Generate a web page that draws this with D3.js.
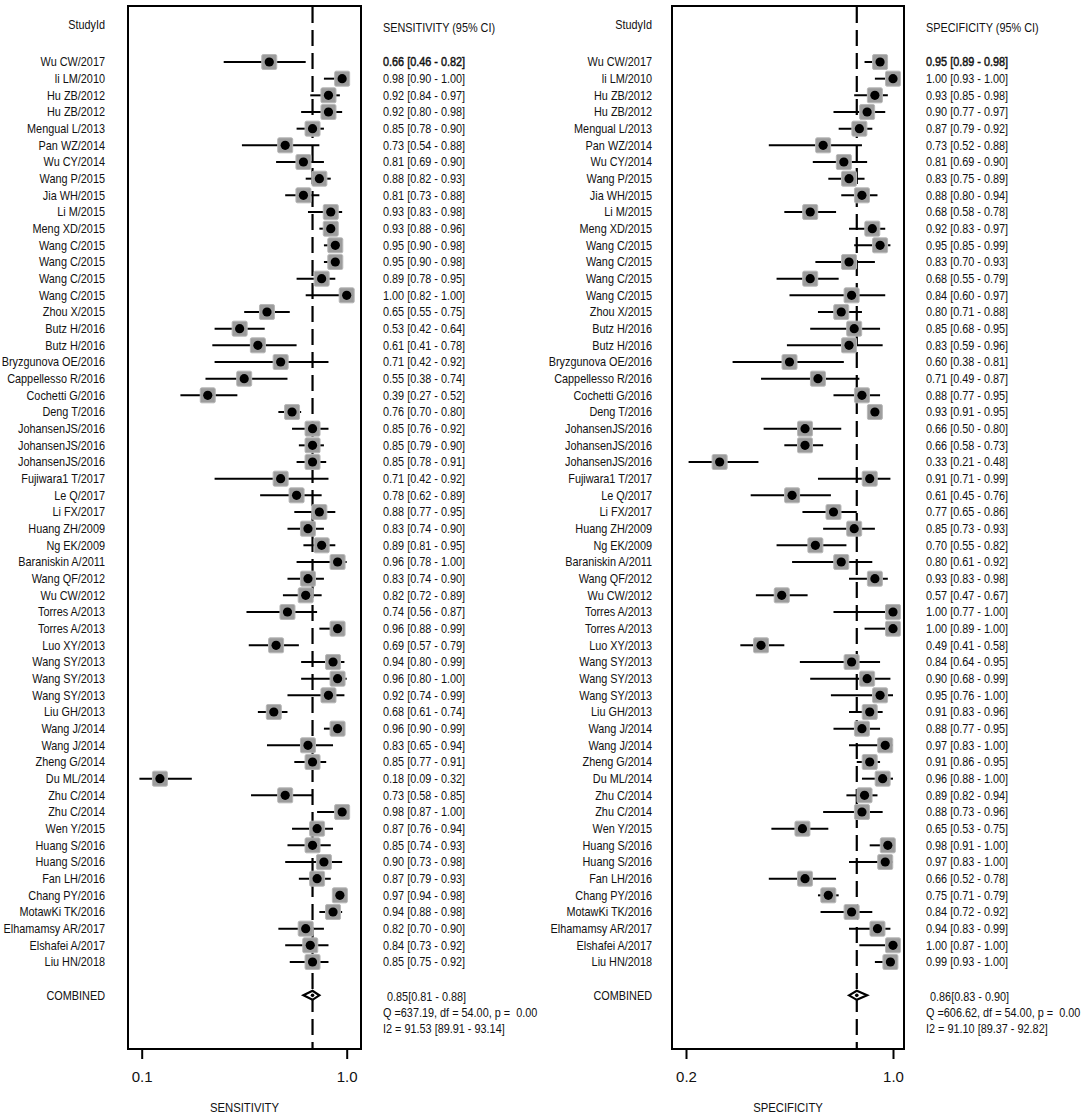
<!DOCTYPE html>
<html><head><meta charset="utf-8">
<script src="https://cdn.jsdelivr.net/npm/d3@7"></script>
<style>
body{margin:0;background:#fff;}
text{font-family:"Liberation Sans",Arial,sans-serif;fill:#111;}
</style></head><body>
<svg id="c" width="1084" height="1119"></svg>
<script>
const studies = ["Wu CW/2017","li LM/2010","Hu ZB/2012","Hu ZB/2012","Mengual L/2013","Pan WZ/2014","Wu CY/2014","Wang P/2015","Jia WH/2015","Li M/2015","Meng XD/2015","Wang C/2015","Wang C/2015","Wang C/2015","Wang C/2015","Zhou X/2015","Butz H/2016","Butz H/2016","Bryzgunova OE/2016","Cappellesso R/2016","Cochetti G/2016","Deng T/2016","JohansenJS/2016","JohansenJS/2016","JohansenJS/2016","Fujiwara1 T/2017","Le Q/2017","Li FX/2017","Huang ZH/2009","Ng EK/2009","Baraniskin A/2011","Wang QF/2012","Wu CW/2012","Torres A/2013","Torres A/2013","Luo XY/2013","Wang SY/2013","Wang SY/2013","Wang SY/2013","Liu GH/2013","Wang J/2014","Wang J/2014","Zheng G/2014","Du ML/2014","Zhu C/2014","Zhu C/2014","Wen Y/2015","Huang S/2016","Huang S/2016","Fan LH/2016","Chang PY/2016","MotawKi TK/2016","Elhamamsy AR/2017","Elshafei A/2017","Liu HN/2018"];
const sensEst = [0.66,0.98,0.92,0.92,0.85,0.73,0.81,0.88,0.81,0.93,0.93,0.95,0.95,0.89,1.00,0.65,0.53,0.61,0.71,0.55,0.39,0.76,0.85,0.85,0.85,0.71,0.78,0.88,0.83,0.89,0.96,0.83,0.82,0.74,0.96,0.69,0.94,0.96,0.92,0.68,0.96,0.83,0.85,0.18,0.73,0.98,0.87,0.85,0.90,0.87,0.97,0.94,0.82,0.84,0.85];
const sensLo = [0.46,0.90,0.84,0.80,0.78,0.54,0.69,0.82,0.73,0.83,0.88,0.90,0.90,0.78,0.82,0.55,0.42,0.41,0.42,0.38,0.27,0.70,0.76,0.79,0.78,0.42,0.62,0.77,0.74,0.81,0.78,0.74,0.72,0.56,0.88,0.57,0.80,0.80,0.74,0.61,0.90,0.65,0.77,0.09,0.58,0.87,0.76,0.74,0.73,0.79,0.94,0.88,0.70,0.73,0.75];
const sensHi = [0.82,1.00,0.97,0.98,0.90,0.88,0.90,0.93,0.88,0.98,0.96,0.98,0.98,0.95,1.00,0.75,0.64,0.78,0.92,0.74,0.52,0.80,0.92,0.90,0.91,0.92,0.89,0.95,0.90,0.95,1.00,0.90,0.89,0.87,0.99,0.79,0.99,1.00,0.99,0.74,0.99,0.94,0.91,0.32,0.85,1.00,0.94,0.93,0.98,0.93,0.98,0.98,0.90,0.92,0.92];
const specEst = [0.95,1.00,0.93,0.90,0.87,0.73,0.81,0.83,0.88,0.68,0.92,0.95,0.83,0.68,0.84,0.80,0.85,0.83,0.60,0.71,0.88,0.93,0.66,0.66,0.33,0.91,0.61,0.77,0.85,0.70,0.80,0.93,0.57,1.00,1.00,0.49,0.84,0.90,0.95,0.91,0.88,0.97,0.91,0.96,0.89,0.88,0.65,0.98,0.97,0.66,0.75,0.84,0.94,1.00,0.99];
const specLo = [0.89,0.93,0.85,0.77,0.79,0.52,0.69,0.75,0.80,0.58,0.83,0.85,0.70,0.55,0.60,0.71,0.68,0.59,0.38,0.49,0.77,0.91,0.50,0.58,0.21,0.71,0.45,0.65,0.73,0.55,0.61,0.83,0.47,0.77,0.89,0.41,0.64,0.68,0.76,0.83,0.77,0.83,0.86,0.88,0.82,0.73,0.53,0.91,0.83,0.52,0.71,0.72,0.83,0.87,0.93];
const specHi = [0.98,1.00,0.98,0.97,0.92,0.88,0.90,0.89,0.94,0.78,0.97,0.99,0.93,0.79,0.97,0.88,0.95,0.96,0.81,0.87,0.95,0.95,0.80,0.73,0.48,0.99,0.76,0.86,0.93,0.82,0.92,0.98,0.67,1.00,1.00,0.58,0.95,0.99,1.00,0.96,0.95,1.00,0.95,1.00,0.94,0.96,0.75,1.00,1.00,0.78,0.79,0.92,0.99,1.00,1.00];
const sensCombined = [0.85,0.81,0.88];
const specCombined = [0.86,0.83,0.90];
const sensStats = ["Q =637.19, df = 54.00, p =  0.00","I2 = 91.53 [89.91 - 93.14]"];
const specStats = ["Q =606.62, df = 54.00, p =  0.00","I2 = 91.10 [89.37 - 92.82]"];
const sensTicks = [0.1,1.0];
const specTicks = [0.2,1.0];

const svg = d3.select("#c");
const y = d3.scaleLinear().domain([0,54]).range([62,962]);
const yComb = y(56);
const SX = 0.87, FS = 12.5;
const tr = (x,yy)=>`translate(${x},${yy}) scale(${SX},1)`;

function txt(g,x,yy,s,anchor){
  return g.append("text").attr("transform",tr(x,yy)).attr("dy","0.35em").attr("font-size",FS)
    .attr("text-anchor",anchor||"start").style("white-space","pre").text(s);
}

function panel(o){
  const g = svg.append("g");
  const x = d3.scaleLinear().domain([o.ticks[0],1]).range(o.range);
  // labels
  txt(g,o.labelX,25,"StudyId","end");
  g.selectAll(".lab").data(studies).join("text").attr("transform",(d,i)=>tr(o.labelX,y(i))).attr("dy","0.35em")
    .attr("text-anchor","end").attr("font-size",FS).text(d=>d);
  txt(g,o.labelX,yComb,"COMBINED","end");
  // box
  g.append("rect").attr("x",o.box[0]).attr("y",6).attr("width",o.box[1]-o.box[0]).attr("height",1049-6)
    .attr("fill","none").attr("stroke","#000").attr("stroke-width",2);
  // dashed line
  g.append("line").attr("x1",x(o.comb[0])).attr("x2",x(o.comb[0])).attr("y1",7).attr("y2",1048)
    .attr("stroke","#000").attr("stroke-width",2.2).attr("stroke-dasharray","16,7");
  // CI lines
  g.selectAll(".ci").data(o.est).join("line").attr("x1",(d,i)=>x(o.lo[i])).attr("x2",(d,i)=>x(o.hi[i]))
    .attr("y1",(d,i)=>y(i)).attr("y2",(d,i)=>y(i)).attr("stroke","#000").attr("stroke-width",2);
  // squares
  const s = 15;
  g.selectAll(".sq").data(o.est).join("rect").attr("x",d=>x(d)-s/2).attr("y",(d,i)=>y(i)-s/2)
    .attr("width",s).attr("height",s).attr("rx",1.5).attr("fill","#9c9c9c").attr("stroke","#b8b8b8").attr("stroke-width",1);
  g.selectAll(".dot").data(o.est).join("circle").attr("cx",d=>x(d)).attr("cy",(d,i)=>y(i)).attr("r",4.6).attr("fill","#000");
  // combined diamond
  const [ce,cl,ch] = o.comb;
  g.append("path").attr("d",`M${x(cl)},${yComb} L${x(ce)},${yComb-4.5} L${x(ch)},${yComb} L${x(ce)},${yComb+4.5} Z`)
    .attr("fill","#fff").attr("stroke","#000").attr("stroke-width",2.2);
  g.append("circle").attr("cx",x(ce)).attr("cy",yComb).attr("r",1.8).attr("fill","#000");
  // CI text
  txt(g,o.textX,28,o.header);
  const f = d3.format(".2f");
  g.selectAll(".ct").data(o.est).join("text").attr("transform",(d,i)=>tr(o.textX,y(i))).attr("dy","0.35em").attr("font-size",FS)
    .attr("stroke",(d,i)=>i===0?"#111":"none").attr("stroke-width",0.45)
    .text((d,i)=>`${f(d)} [${f(o.lo[i])} - ${f(o.hi[i])}]`);
  txt(g,o.textX+4,997,`${f(ce)}[${f(cl)} - ${f(ch)}]`);
  o.stats.forEach((t,k)=>txt(g,o.textX,1013+k*15.5,t));
  // axis
  const ax = g.append("g").attr("transform","translate(0,1049)")
    .call(d3.axisBottom(x).tickValues(o.ticks).tickFormat(d3.format(".1f")).tickSize(10).tickPadding(12));
  ax.select(".domain").remove();
  ax.selectAll("line").attr("stroke","#000").attr("stroke-width",2);
  ax.selectAll("text").attr("font-size",15).style("font-family","'Liberation Sans',Arial,sans-serif").attr("fill","#111");
  txt(g,(o.box[0]+o.box[1])/2,1107,o.title,"middle").attr("font-size",13);
}

panel({range:[141.7,346.7],box:[128,361],labelX:105,textX:383,ticks:sensTicks,est:sensEst,lo:sensLo,hi:sensHi,
  comb:sensCombined,stats:sensStats,header:"SENSITIVITY (95% CI)",title:"SENSITIVITY"});
panel({range:[686,893],box:[672,904],labelX:652,textX:926,ticks:specTicks,est:specEst,lo:specLo,hi:specHi,
  comb:specCombined,stats:specStats,header:"SPECIFICITY (95% CI)",title:"SPECIFICITY"});
</script>
</body></html>
